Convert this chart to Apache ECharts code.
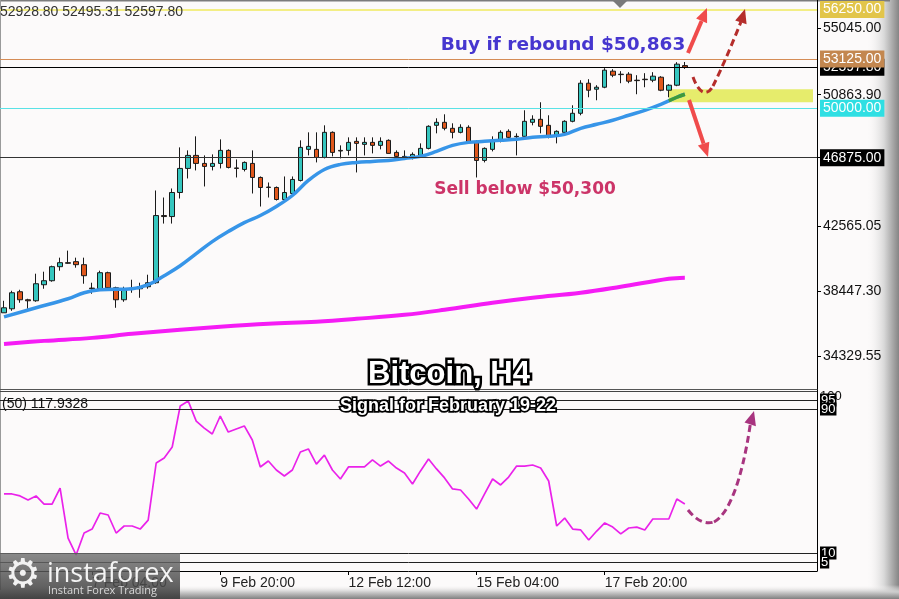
<!DOCTYPE html>
<html><head><meta charset="utf-8">
<script src="https://cdn.jsdelivr.net/npm/echarts@6/dist/echarts.min.js"></script>
<style>html,body{margin:0;padding:0;background:#fcfafa;}#c{width:899px;height:599px;}</style>
</head><body><div id="c"></div>
<script>
// ---------- DATA ----------
// Bitcoin H4 candles [open, close, low, high]
const candles = [
[37069,37386,37069,37829],[37322,38336,37195,38463],[38400,37893,37703,38526],[37893,37829,37322,37956],
[37829,38907,37766,39541],[38843,39097,38590,39668],[39097,39985,39034,40048],[39985,40238,39731,40555],
[40238,40200,40175,41000],[40302,40111,39921,40555],[40111,39414,38907,40555],[38630,38590,38273,38970],
[38590,39604,38463,39731],[39604,38653,38526,39668],[38653,37893,37386,38717],[37893,38590,37766,38717],
[38590,38620,38336,39160],[38590,38717,38019,38970],[38717,38970,38590,39477],[38970,43218,38907,44803],
[43218,43155,42711,44359],[43155,44676,42711,44930],[44676,46198,44296,47529],[46198,47022,45564,47339],
[47022,46515,46071,48227],[46515,46325,45057,47022],[46325,46515,46071,47085],[46515,47339,46198,48036],
[47339,46261,46198,47403],[46230,46198,45627,46768],[46134,46578,46008,46641],[46515,45627,44613,47339],
[45627,44993,43789,45690],[45020,44993,44359,45310],[44993,44233,44169,45057],[44233,44676,44169,45690],
[44613,45500,44486,45690],[45437,47529,45374,47973],[47403,47593,47022,48480],[47403,46895,46578,48480],
[46895,48480,46832,48924],[48480,47212,46959,48540],[47339,47300,46832,47656],[47339,47846,47022,48163],
[47910,47783,45944,48163],[47720,47846,47022,48163],[47846,47656,47149,48163],[47656,47910,47403,48163],
[47973,47149,47149,48036],[47212,46959,46895,47339],[46959,46920,46768,47339],[46895,47085,46768,47212],
[47022,47466,46895,47783],[47466,48861,47403,48924],[48924,49114,48417,49368],[49114,48734,48607,49621],
[48734,48480,48100,49051],[48480,48797,48417,48988],[48797,47846,47783,48924],[47846,46705,45627,47973],
[46705,47466,46578,47529],[47403,47910,47276,48227],[47910,48480,47846,48607],[48544,48163,48100,48670],
[48227,48200,47022,48417],[48227,49178,48163,49875],[49114,49304,48924,49558],[49304,48861,48417,50382],
[48924,48227,48100,49558],[48227,48544,47783,48607],[48480,49178,48417,49241],[49178,49685,49114,50192],
[49685,51587,49558,51777],[51587,51143,50699,51840],[51207,51333,50509,51460],[51333,52411,51270,52538],
[52348,52094,51967,52474],[52157,52130,51587,52348],[52157,51714,51587,52284],[51777,51750,50889,52094],
[51840,51810,51333,52221],[51777,52031,51650,52284],[51967,51143,51080,52031],[51143,51460,50699,51523],
[51460,52791,51397,52918],[52700,52597.8,52495.31,52928.8]
];
const totalBars = 102;
// Fast moving average (blue) [bar, price]
const emaPoints = [[0,36815],[4,37386],[8,37956],[10,38336],[12,38526],[16,38590],[18,38843],[20,39414],[22,40048],
[24,40809],[26,41570],[28,42204],[30,42774],[32,43218],[34,43789],[36,44486],[38,45437],[40,46134],[42,46452],
[44,46578],[46,46641],[48,46705],[50,46832],[52,46959],[54,47276],[56,47656],[58,47846],[60,47910],[62,47973],
[64,48036],[66,48163],[68,48227],[70,48353],[72,48734],[74,48988],[76,49241],[78,49558],[80,49875],[82,50255],
[84,50699],[85,50889]];
const emaTail = [[83,50477],[84,50699],[85,50889]];
// 200 MA (magenta) [bar, price]
const maPoints = [[0,35103],[5,35293],[11,35483],[16,35737],[22,35991],[27,36181],[33,36371],[39,36510],[44,36688],
[50,36941],[55,37258],[61,37702],[66,38019],[72,38336],[77,38717],[83,39224],[85,39287]];
// Oscillator values (0-100 scale)
const oscValues = [42.8,42.8,41.7,39.4,41.7,37.2,37.2,46.1,18.3,8.9,21.1,23.3,32.2,31.1,21.1,25.0,25.0,23.3,28.3,60.0,
62.8,68.9,91.7,94.4,83.3,79.4,76.1,86.1,77.2,78.9,80.6,72.8,57.8,61.1,56.1,52.8,56.1,66.1,67.8,59.4,
64.4,56.1,51.1,57.8,57.8,57.8,61.7,58.3,61.1,57.2,54.4,48.3,55.6,62.2,56.7,51.7,45.6,45.0,40.0,34.4,
42.8,51.1,47.8,52.2,58.3,58.3,58.9,57.2,50.0,25.0,29.4,23.3,22.8,17.2,22.2,26.7,24.4,20.6,23.9,24.4,
22.8,28.9,28.9,28.9,40.0,37.2];
const oscLevels = [95, 90, 10, 5];
const priceTicks = [55045.00, 50863.90, 46875.00, 42565.05, 38447.30, 34329.55];
const levelValues = [56250, 52597.8, 53125, 50000, 46875];
const levelTags = ['[+2/8]P', '', '[+1/8]P', '[8/8]P', '[7/8]P'];
const zoneRange = [50382, 51207];
const zoneStartBar = 83;
const timeLabels = ['7 Feb 04:00', '9 Feb 20:00', '12 Feb 12:00', '15 Feb 04:00', '17 Feb 20:00'];
const timeLabelBars = [11, 27, 43, 59, 75];
const headerText = '52928.80 52495.31 52597.80';
const oscHeader = '(50) 117.9328';

// ---------- STYLES ----------
const FONT = '"Liberation Sans", Arial, sans-serif';
const levelStyles = [
  {line:'#f3ee84', width:2, box:'#e2c54a', tag:'#e6c47a'},
  {line:'#000000', width:1, box:'#000000', tag:'#000'},
  {line:'#d58c55', width:1, box:'#c3874f', tag:'#c7a07a'},
  {line:'#5ae2e6', width:1, box:'#2fdfe3', tag:'#5ee4e8'},
  {line:'#333333', width:1, box:'#000000', tag:'#555'}
];

const cats = Array.from({length: totalBars}, (_, i) => String(i));

const levelMarks = [];
levelValues.forEach((v, i) => {
  const s = levelStyles[i];
  levelMarks.push({
    yAxis: v,
    lineStyle: {color: s.line, width: s.width, type: 'solid'},
    label: {show: true, position: 'end', distance: 3, formatter: v.toFixed(2), color: '#fff',
      backgroundColor: s.box, padding: [2, 3, 1, 3], fontSize: 14, fontFamily: FONT}
  });
});
levelValues.forEach((v, i) => {
  if (!levelTags[i]) return;
  levelMarks.push({
    yAxis: v,
    lineStyle: {opacity: 0},
    label: {show: true, position: 'insideMiddleBottom', distance: 1, offset: [-6, 0], formatter: levelTags[i],
      color: levelStyles[i].tag, fontSize: 15, fontFamily: FONT}
  });
});

const oscMarks = [{yAxis: 100, lineStyle: {color: '#444', width: 1, type: 'solid'}, label: {show: true, position: 'end', distance: 3, offset:[0,5], formatter: '100', color: '#111', fontSize: 13, fontFamily: FONT}}];
oscLevels.forEach(v => {
  oscMarks.push({yAxis: v, lineStyle: {color: '#222', width: 1, type: 'solid'},
    label: {show: true, position: 'end', distance: 3, formatter: String(v), color: '#fff', backgroundColor: '#000',
      padding: [0, 1, 0, 1], fontSize: 13, fontFamily: FONT}});
});

const LG = echarts.graphic.LinearGradient;
function arrowHead(tip, base1, base2, color) {
  return {type: 'polygon', shape: {points: [tip, base1, base2]}, style: {fill: color}, z: 60, silent: true};
}

const option = {
  animation: false,
  backgroundColor: '#fcfafa',
  grid: [
    {left: 0, right: 82, top: 3, height: 386, show: false},
    {left: 0, right: 82, top: 391, height: 180, show: false}
  ],
  xAxis: [
    {type: 'category', gridIndex: 0, data: cats, boundaryGap: true, z: 3,
      axisLine: {show: true, lineStyle: {color: '#555', width: 1}}, axisTick: {show: false}, axisLabel: {show: false}, splitLine: {show: false}},
    {type: 'category', gridIndex: 1, data: cats, boundaryGap: true, z: 3,
      axisLine: {show: true, lineStyle: {color: '#000', width: 1}},
      axisTick: {show: true, alignWithLabel: true, length: 4, interval: (i) => timeLabelBars.indexOf(i) >= 0, lineStyle: {color: '#000'}},
      axisLabel: {show: true, interval: (i) => timeLabelBars.indexOf(i) >= 0, align: 'left', margin: 5,
        formatter: (val, idx) => { const k = timeLabelBars.indexOf(Number(val)); return k >= 0 ? timeLabels[k] : ''; },
        color: '#222', fontSize: 14, fontFamily: FONT},
      splitLine: {show: false}}
  ],
  yAxis: [
    {type: 'value', gridIndex: 0, position: 'right', min: 32250, max: 56659, z: 3,
      axisLine: {show: true, lineStyle: {color: '#000'}},
      axisTick: {show: true, customValues: priceTicks, length: 4, lineStyle: {color: '#000'}},
      axisLabel: {show: true, customValues: priceTicks, formatter: v => Number(v).toFixed(2), color: '#111', fontSize: 14, fontFamily: FONT, margin: 6},
      splitLine: {show: false}},
    {type: 'value', gridIndex: 1, position: 'right', min: 0, max: 100, z: 3,
      axisLine: {show: true, lineStyle: {color: '#000'}}, axisTick: {show: false}, axisLabel: {show: false}, splitLine: {show: false}}
  ],
  series: [
    {type: 'candlestick', xAxisIndex: 0, yAxisIndex: 0, data: candles, barWidth: 5,
      itemStyle: {color: '#35c6bf', color0: '#e0571c', borderColor: '#1a1a1a', borderColor0: '#1a1a1a', borderWidth: 1},
      markLine: {symbol: ['none', 'none'], silent: true, animation: false, data: levelMarks},
      markArea: {silent: true, itemStyle: {color: 'rgba(228,234,96,0.92)'},
        data: [[{xAxis: zoneStartBar, yAxis: zoneRange[1]}, {xAxis: totalBars - 1, yAxis: zoneRange[0]}]]}
    },
    {type: 'line', xAxisIndex: 0, yAxisIndex: 0, data: maPoints, smooth: 0.4, symbol: 'none',
      lineStyle: {color: '#f51cf5', width: 4}},
    {type: 'line', xAxisIndex: 0, yAxisIndex: 0, data: emaPoints, smooth: 0.4, symbol: 'none', z: 3,
      lineStyle: {color: '#3795e8', width: 3.5}},
    {type: 'line', xAxisIndex: 0, yAxisIndex: 0, data: emaTail, smooth: true, symbol: 'none', z: 4,
      lineStyle: {color: '#3f9a3a', width: 3.5}},
    {type: 'line', xAxisIndex: 1, yAxisIndex: 1, data: oscValues, symbol: 'none',
      lineStyle: {color: '#ea22ea', width: 1.7},
      markLine: {symbol: ['none', 'none'], silent: true, animation: false, data: oscMarks}}
  ],
  graphic: [
    // frame
    {type: 'rect', shape: {x: 866, y: 0, width: 33, height: 599}, z: 0, silent: true,
      style: {fill: new LG(0, 0, 1, 0, [{offset: 0, color: 'rgba(252,250,250,0)'}, {offset: 0.55, color: '#d8d8d8'}, {offset: 1, color: '#858585'}])}},
    {type: 'rect', shape: {x: 0, y: 585, width: 899, height: 14}, z: 0, silent: true,
      style: {fill: new LG(0, 0, 0, 1, [{offset: 0, color: 'rgba(252,250,250,0)'}, {offset: 0.5, color: '#cdcdcd'}, {offset: 1, color: '#808080'}])}},
    {type: 'line', shape: {x1: 0, y1: 0.5, x2: 890, y2: 0.5}, style: {stroke: '#7c7c7c', lineWidth: 2}, z: 1, silent: true},
    {type: 'line', shape: {x1: 0.5, y1: 0, x2: 0.5, y2: 590}, style: {stroke: '#9a9a9a', lineWidth: 1}, z: 1, silent: true},
    {type: 'line', shape: {x1: 817.5, y1: 0, x2: 817.5, y2: 571}, style: {stroke: '#000', lineWidth: 1}, z: 1, silent: true},
    {type: 'polygon', shape: {points: [[612, 0], [628, 0], [620, 8]]}, style: {fill: '#7a7a7a'}, z: 5, silent: true},
    // texts
    {type: 'text', x: 0, y: 12, z: 20, silent: true,
      style: {text: headerText, fill: '#333', font: '14px ' + FONT, textVerticalAlign: 'middle', verticalAlign: 'middle'}},
    {type: 'text', x: 2, y: 404, z: 20, silent: true,
      style: {text: oscHeader, fill: '#111', font: '14px ' + FONT, textVerticalAlign: 'middle', verticalAlign: 'middle'}},
    {type: 'text', x: 563, y: 45, z: 20, silent: true,
      style: {text: 'Buy if rebound $50,863', fill: '#4636cf', font: 'bold 18.5px "DejaVu Sans", sans-serif',
        textAlign: 'center', align: 'center', textVerticalAlign: 'middle', verticalAlign: 'middle'}},
    {type: 'text', x: 525, y: 190, z: 20, silent: true,
      style: {text: 'Sell below $50,300', fill: '#cc3468', font: 'bold 17px "DejaVu Sans", sans-serif',
        textAlign: 'center', align: 'center', textVerticalAlign: 'middle', verticalAlign: 'middle'}},
    {type: 'text', x: 449, y: 374, z: 40, silent: true,
      style: {text: 'Bitcoin, H4', fill: '#fff', stroke: '#000', lineWidth: 5, font: 'bold 31px "Liberation Sans", sans-serif',
        shadowBlur: 6, shadowColor: 'rgba(0,0,0,0.7)', textAlign: 'center', align: 'center', textVerticalAlign: 'middle', verticalAlign: 'middle'}},
    {type: 'text', x: 448, y: 406, z: 40, silent: true,
      style: {text: 'Signal for February 19-22', fill: '#fff', stroke: '#000', lineWidth: 3.5, font: 'bold 18px "Liberation Sans", sans-serif',
        shadowBlur: 4, shadowColor: 'rgba(0,0,0,0.6)', textAlign: 'center', align: 'center', textVerticalAlign: 'middle', verticalAlign: 'middle'}},
    // arrows (main panel)
    {type: 'line', shape: {x1: 688, y1: 53, x2: 701.6, y2: 21}, style: {stroke: '#f04b4b', lineWidth: 4}, z: 60, silent: true},
    arrowHead([707, 8], [707.1, 23.2], [696.1, 18.6], '#f04b4b'),
    {type: 'line', shape: {x1: 689, y1: 100, x2: 703.6, y2: 143.7}, style: {stroke: '#f04b4b', lineWidth: 4}, z: 60, silent: true},
    arrowHead([708, 157], [709.3, 141.8], [697.9, 145.6], '#f04b4b'),
    {type: 'bezierCurve', shape: {x1: 693, y1: 77, cpx1: 699, cpy1: 94, cpx2: 707, cpy2: 97, x2: 713, y2: 86},
      style: {stroke: '#b52d2b', lineWidth: 3, lineDash: [7, 4], fill: null}, z: 60, silent: true},
    {type: 'bezierCurve', shape: {x1: 713, y1: 86, cpx1: 722, cpy1: 68, cpx2: 733, cpy2: 42, x2: 740.9, y2: 22},
      style: {stroke: '#b52d2b', lineWidth: 3, lineDash: [7, 4], fill: null}, z: 60, silent: true},
    arrowHead([745, 9], [746.6, 24.2], [735.2, 20.4], '#b52d2b'),
    // arrow (oscillator)
    {type: 'bezierCurve', shape: {x1: 688, y1: 510, cpx1: 696, cpy1: 520, cpx2: 705, cpy2: 525, x2: 714, y2: 522},
      style: {stroke: '#a8347f', lineWidth: 3, lineDash: [7, 4], fill: null}, z: 60, silent: true},
    {type: 'bezierCurve', shape: {x1: 714, y1: 522, cpx1: 729, cpy1: 514, cpx2: 742, cpy2: 480, x2: 750.2, y2: 425},
      style: {stroke: '#a8347f', lineWidth: 3, lineDash: [7, 4], fill: null}, z: 60, silent: true},
    arrowHead([754, 411], [755.9, 426.2], [744.5, 422.6], '#a8347f'),
    // logo
    {type: 'rect', shape: {x: 0, y: 553, width: 180, height: 46}, z: 100, silent: true,
      style: {fill: new LG(0, 0, 0, 1, [{offset: 0, color: 'rgba(110,110,110,0.8)'}, {offset: 1, color: 'rgba(58,58,58,0.88)'}])}},
    {type: 'text', x: 23, y: 577, z: 101, silent: true,
      style: {text: '\u2699', fill: '#f2f2f2', font: '40px "DejaVu Sans", sans-serif', textAlign: 'center', align: 'center', textVerticalAlign: 'middle', verticalAlign: 'middle'}},
    {type: 'text', x: 47, y: 574, z: 101, silent: true,
      style: {text: 'instaforex', fill: '#f4f4f4', font: '27px "Open Sans", sans-serif', textVerticalAlign: 'middle', verticalAlign: 'middle'}},
    {type: 'text', x: 48, y: 591, z: 101, silent: true,
      style: {text: 'Instant Forex Trading', fill: '#d8d8d8', font: '11px "Open Sans", sans-serif', textVerticalAlign: 'middle', verticalAlign: 'middle'}}
  ]
};
const chart = echarts.init(document.getElementById('c'));
chart.setOption(option);
</script>
</body></html>
